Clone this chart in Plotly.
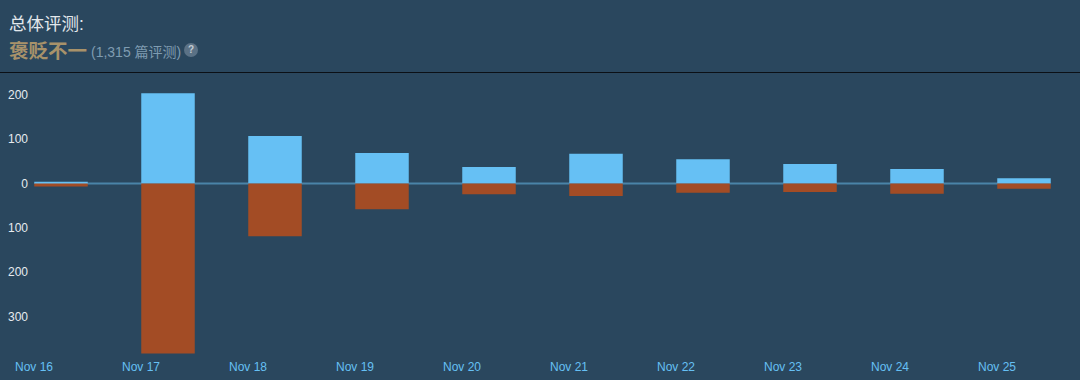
import plotly.graph_objects as go

days = ["Nov 16", "Nov 17", "Nov 18", "Nov 19", "Nov 20", "Nov 21", "Nov 22", "Nov 23", "Nov 24", "Nov 25"]
positive = [4, 204, 107, 69, 37, 67, 55, 44, 33, 12]
negative = [-7, -384, -119, -58, -24, -28, -21, -19, -23, -12]
y_ticks = [200, 100, 0, -100, -200, -300]
y_labels = ["200", "100", "0", "100", "200", "300"]

W, H = 1080, 380
BG = "#2a475e"
FONT = "Liberation Sans, Noto Sans CJK SC, sans-serif"
idx = list(range(len(days)))

fig = go.Figure()
fig.add_bar(x=idx, y=positive, marker=dict(color="#66c0f4", line_width=0), width=0.5, name="positive")
fig.add_bar(x=idx, y=negative, marker=dict(color="#a34c25", line_width=0), width=0.5, name="negative")

def txt(x, y, s, size, color, bold=False):
    fig.add_annotation(xref="paper", yref="paper", x=x / W, y=1 - (y - 73) / (358 - 73),
                       xanchor="left", yanchor="middle", showarrow=False, align="left",
                       text=f"<b>{s}</b>" if bold else s,
                       font=dict(size=size, color=color, family=FONT))

txt(7, 24, "总体评测:", 17.5, "#e3e8ec")
txt(7, 51, "褒贬不一", 19.5, "#a8926a", True)
txt(89, 52, "(1,315 篇评测)", 14, "#7f9cb1")
fig.add_annotation(xref="paper", yref="paper", x=191 / W, y=1 - (50 - 73) / 285,
                   xanchor="center", yanchor="middle", showarrow=False, text="<b>?</b>",
                   font=dict(size=10, color="#c3ccd3", family=FONT))

fig.add_shape(type="circle", xref="paper", yref="paper", layer="below",
              x0=184 / W, x1=198 / W,
              y0=1 - (57 - 73) / 285, y1=1 - (43 - 73) / 285,
              fillcolor="#5b7286", line_width=0)
fig.add_shape(type="line", xref="paper", yref="paper", x0=0, x1=1,
              y0=1 - (72.5 - 73) / 285, y1=1 - (72.5 - 73) / 285,
              line=dict(color="#0b1016", width=1))
# zero baseline spans only the bars' extent
fig.add_shape(type="line", xref="paper", yref="y", layer="below",
              x0=35 / W, x1=1050.5 / W, y0=0, y1=0,
              line=dict(color="#4a84a8", width=2))

fig.update_layout(
    width=W, height=H, autosize=False, showlegend=False,
    paper_bgcolor=BG, plot_bgcolor=BG, barmode="relative",
    margin=dict(l=0, r=0, t=73, b=22),
    font=dict(family=FONT),
    xaxis=dict(range=[-61 / 107, (W - 61) / 107], tickmode="array",
               tickvals=[i - 0.252 for i in idx], ticktext=days,
               showgrid=False, zeroline=False, showline=False, ticks="",
               tickfont=dict(size=12, color="#66c0f4")),
    yaxis=dict(range=[(183.5 - 358) / 0.443, (183.5 - 73) / 0.443],
               anchor="free", position=28 / W, tickmode="array",
               tickvals=y_ticks, ticktext=y_labels, showgrid=False,
               zeroline=False, showline=False, ticks="",
               tickfont=dict(size=12, color="#e6ebef")),
)
fig.write_html("out.html", config={"displayModeBar": False},
               post_script="document.body.style.margin='0';document.body.style.overflow='hidden';document.body.style.background='#2a475e';")
